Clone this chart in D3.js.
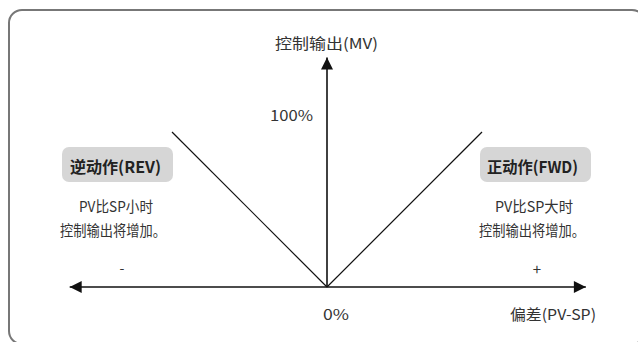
<!DOCTYPE html>
<html>
<head>
<meta charset="utf-8">
<script src="https://cdn.jsdelivr.net/npm/d3@7.9.0/dist/d3.min.js"></script>
<style>
  body { margin: 0; background: #fff; }
  svg text { font-family: "Noto Sans CJK SC", "Noto Sans", sans-serif; fill: #333; }
</style>
</head>
<body>
<svg id="chart" width="638" height="342"></svg>
<script>
// deviation (PV-SP) in units, output in %
const deviation = [-1, 0, 1];
const revOutput = [100, 0, null];   // reverse action: output up when PV < SP
const fwdOutput = [null, 0, 100];   // forward action: output up when PV > SP
const axisExtentX = [-1.66, 1.67];
const axisExtentY = [0, 148];
const tickLabels = ['0%', '100%'];
const signLabels = ['-', '+'];
const modeLabels = ['逆动作(REV)', '正动作(FWD)'];
const modeNotes = [['PV比SP小时', '控制输出将增加。'], ['PV比SP大时', '控制输出将增加。']];

const svg = d3.select('#chart');

// frame (runs off the right and bottom edge like the original)
svg.append('rect')
  .attr('x', 9).attr('y', 10)
  .attr('width', 636).attr('height', 334)
  .attr('rx', 13)
  .attr('fill', 'none')
  .attr('stroke', '#777')
  .attr('stroke-width', 2);

const x = d3.scaleLinear().domain([-1, 1]).range([172, 482]);
const y = d3.scaleLinear().domain([0, 100]).range([287, 132]);

// arrow heads
svg.append('defs').append('marker')
  .attr('id', 'arrow')
  .attr('viewBox', '0 0 10 10')
  .attr('refX', 10).attr('refY', 5)
  .attr('markerWidth', 17).attr('markerHeight', 12)
  .attr('markerUnits', 'userSpaceOnUse')
  .attr('orient', 'auto-start-reverse')
  .append('path')
  .attr('d', 'M0,0 L10,5 L0,10 Z')
  .attr('fill', '#111');

// x axis (double arrow)
svg.append('line')
  .attr('x1', x(axisExtentX[0])).attr('x2', x(axisExtentX[1]))
  .attr('y1', y(0)).attr('y2', y(0))
  .attr('stroke', '#111').attr('stroke-width', 1.6)
  .attr('marker-start', 'url(#arrow)')
  .attr('marker-end', 'url(#arrow)');

// y axis
svg.append('line')
  .attr('x1', x(0)).attr('x2', x(0))
  .attr('y1', y(axisExtentY[0])).attr('y2', y(axisExtentY[1]))
  .attr('stroke', '#111').attr('stroke-width', 1.6)
  .attr('marker-end', 'url(#arrow)');

// action lines
const line = d3.line()
  .defined(d => d[1] != null)
  .x(d => x(d[0]))
  .y(d => y(d[1]));

[revOutput, fwdOutput].forEach(series => {
  svg.append('path')
    .datum(deviation.map((d, i) => [d, series[i]]))
    .attr('d', line)
    .attr('fill', 'none')
    .attr('stroke', '#111')
    .attr('stroke-width', 1.2);
});

// text helper, widths squeezed to the narrow original face
function label(txt, x0, y0, size, len, opts = {}) {
  const t = svg.append('text')
    .attr('x', x0).attr('y', y0)
    .attr('font-size', size)
    .attr('textLength', len)
    .attr('lengthAdjust', 'spacingAndGlyphs')
    .text(txt);
  if (opts.bold) t.attr('font-weight', 'bold').style('fill', '#222');
  return t;
}

// axis titles
label('控制输出(MV)', 275, 49, 15, 103);
label('偏差(PV-SP)', 510, 320, 15, 86);

// tick labels
label(tickLabels[0], 323, 320, 15, 26);
label(tickLabels[1], 270, 121, 15, 43);

// sign labels
svg.append('text')
  .attr('x', 122).attr('y', 273)
  .attr('text-anchor', 'middle')
  .attr('font-size', 14)
  .text(signLabels[0]);

svg.append('text')
  .attr('x', 537).attr('y', 275)
  .attr('text-anchor', 'middle')
  .attr('font-size', 15)
  .text(signLabels[1]);

// mode boxes and notes
const boxLeft = [62, 480];
const titleLeft = [70, 487];
const noteLeft = [[79, 60], [495, 479]];
const noteLen = [[74, 106], [78, 106]];
modeLabels.forEach((txt, i) => {
  svg.append('rect')
    .attr('x', boxLeft[i]).attr('y', 147)
    .attr('width', 111).attr('height', 35)
    .attr('rx', 7)
    .attr('fill', '#d6d6d6');
  label(txt, titleLeft[i], 173, 16, 91, { bold: true });
  modeNotes[i].forEach((note, j) => {
    label(note, noteLeft[i][j], 212 + j * 24, 15, noteLen[i][j]);
  });
});
</script>
</body>
</html>
